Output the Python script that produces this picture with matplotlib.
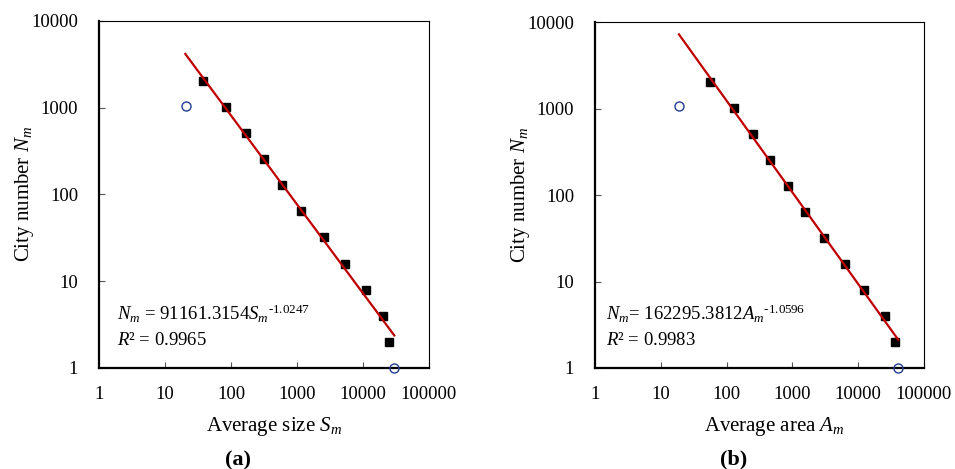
import matplotlib.pyplot as plt
import numpy as np

plt.rcParams['font.family'] = ['Liberation Serif', 'DejaVu Serif']
plt.rcParams['mathtext.fontset'] = 'custom'
plt.rcParams['mathtext.rm'] = 'Liberation Serif'
plt.rcParams['mathtext.it'] = 'Liberation Serif:italic'

# city numbers per level
n_levels = [2048, 1024, 512, 256, 128, 64, 32, 16, 8, 4, 2]
# (a) average size
size_avg = [37.2, 84, 167, 316, 586, 1138, 2536, 5340, 10970, 19870, 25060]
size_out_x = [20.6, 29800]
size_out_y = [1057, 1]
# (b) average area
area_avg = [56.6, 129.5, 249, 451, 847, 1553, 2986, 6225, 12100, 25230, 36240]
area_out_x = [18.9, 39800]
area_out_y = [1062, 1]

fit_a = (91161.3154, -1.0247, 20.3, 29800)
fit_b = (162295.3812, -1.0596, 18.9, 40700)

fig = plt.figure(figsize=(9.55, 4.69), dpi=100)
ax1 = fig.add_axes([0.1037, 0.2154, 0.3455, 0.7399])
ax2 = fig.add_axes([0.623, 0.2154, 0.3445, 0.7375])


def draw(ax, xs, xo, yo, fit, xlabel, eq, r2, cap, lx, tx):
    a, b, x0, x1 = fit
    ax.plot(xs, n_levels, 's', color='black', ms=5.5, zorder=3)
    ax.plot(xo, yo, 'o', mfc='none', mec='#1f3d8f', mew=1.0, ms=6.5,
            zorder=4, clip_on=False)
    xf = np.logspace(np.log10(x0), np.log10(x1), 50)
    ax.plot(xf, a * xf ** b, color='#c00000', lw=1.6, zorder=5)
    ax.set_xscale('log')
    ax.set_yscale('log')
    ax.set_xlim(1, 100000)
    ax.set_ylim(1, 10000)
    ax.set_xticks([1, 10, 100, 1000, 10000, 100000])
    ax.set_xticklabels(['1', '10', '100', '1000', '10000', '100000'])
    ax.set_yticks([1, 10, 100, 1000, 10000])
    ax.set_yticklabels(['1', '10', '100', '1000', '10000'])
    ax.minorticks_off()
    ax.tick_params(direction='in', length=4, width=0.8, color='#555555',
                   labelsize=13.5)
    ax.tick_params(axis='x', pad=13)
    ax.tick_params(axis='y', pad=15)
    for s in ['top', 'right']:
        ax.spines[s].set_linewidth(0.8)
    for s in ['left', 'bottom']:
        ax.spines[s].set_linewidth(1.6)
    ax.set_xlabel(xlabel, fontsize=15)
    ax.xaxis.set_label_coords(lx, -0.135)
    ax.set_ylabel('City number $N_m$', fontsize=15)
    ax.yaxis.set_label_coords(-0.19, 0.5)
    ax.text(tx, 0.138, eq, transform=ax.transAxes, fontsize=13.5)
    ax.text(tx, 0.066, r2, transform=ax.transAxes, fontsize=13.5)
    ax.text(0.42, -0.28, cap, transform=ax.transAxes, fontsize=16,
            fontweight='bold', ha='center')


draw(ax1, size_avg, size_out_x, size_out_y, fit_a, 'Average size $S_m$',
     r'$N_m$ = 91161.3154$S_m$$^{\text{-1.0247}}$', '$R$² = 0.9965', '(a)',
     0.53, 0.055)
draw(ax2, area_avg, area_out_x, area_out_y, fit_b, 'Average area $A_m$',
     r'$N_m$= 162295.3812$A_m$$^{\text{-1.0596}}$', '$R$² = 0.9983', '(b)',
     0.545, 0.035)

fig.savefig('out.png', dpi=100)
